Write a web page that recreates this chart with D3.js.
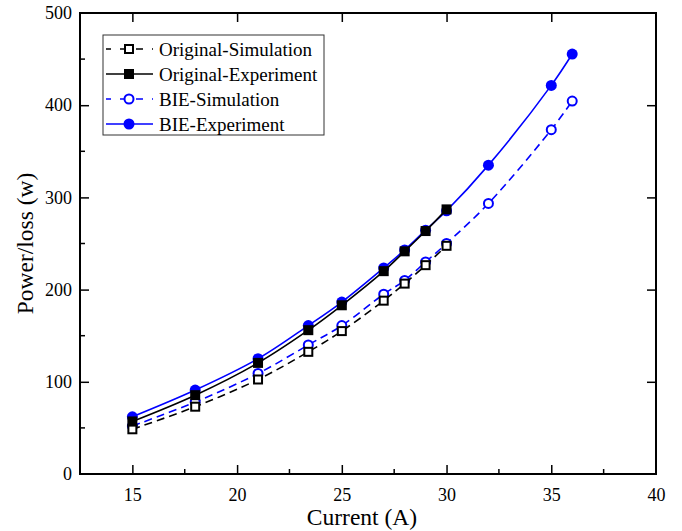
<!DOCTYPE html>
<html>
<head>
<meta charset="utf-8">
<script src="https://cdn.jsdelivr.net/npm/d3@7"></script>
<style>
  body { margin: 0; background: #fff; }
  svg { display: block; font-family: "Liberation Serif", "Times New Roman", serif; }
</style>
</head>
<body>
<svg id="chart" width="682" height="531"></svg>
<script>
// data
const origCurrent = [15, 18, 21, 23.4, 25, 27, 28, 29, 30];
const bieCurrent = [15, 18, 21, 23.4, 25, 27, 28, 29, 30, 32, 35, 36];
const origSimulation = [48.5, 73, 102.5, 132.5, 155, 188, 206.5, 226.5, 247.5];
const origExperiment = [57, 85.5, 120.5, 156, 183, 220, 241.5, 263.5, 287];
const bieSimulation = [52, 78, 109, 140, 161, 195, 210, 230, 250, 293.5, 373.5, 404.5];
const bieExperiment = [62, 91, 125, 161, 186.5, 223.5, 243, 264.5, 285.5, 335, 421.5, 455.5];
const xTicks = [15, 20, 25, 30, 35, 40];
const yTicks = [0, 100, 200, 300, 400, 500];

const margin = { top: 13, right: 26, bottom: 57, left: 80 },
  width = 682 - margin.left - margin.right,
  height = 531 - margin.top - margin.bottom;

const svg = d3.select("#chart")
  .append("g")
  .attr("transform", `translate(${margin.left},${margin.top})`);

const x = d3.scaleLinear().domain([12.5, 40]).range([0, width]);
const y = d3.scaleLinear().domain([0, 500]).range([height, 0]);

const series = [
  { name: "BIE-Simulation", xs: bieCurrent, ys: bieSimulation, color: "#0000ff", dash: "8,5", filled: false, shape: "circle" },
  { name: "BIE-Experiment", xs: bieCurrent, ys: bieExperiment, color: "#0000ff", dash: null, filled: true, shape: "circle" },
  { name: "Original-Simulation", xs: origCurrent, ys: origSimulation, color: "#000000", dash: "8,5", filled: false, shape: "square" },
  { name: "Original-Experiment", xs: origCurrent, ys: origExperiment, color: "#000000", dash: null, filled: true, shape: "square" }
];

const line = d3.line()
  .x(d => x(d[0]))
  .y(d => y(d[1]))
  .curve(d3.curveCatmullRom.alpha(0.5));

function drawMarker(g, s) {
  if (s.shape === "circle") {
    g.append("circle")
      .attr("r", s.filled ? 5.5 : 4.5)
      .attr("fill", s.filled ? s.color : "#fff")
      .attr("stroke", s.color)
      .attr("stroke-width", s.filled ? 0 : 2);
  } else {
    const a = s.filled ? 10 : 8;
    g.append("rect")
      .attr("x", -a / 2).attr("y", -a / 2)
      .attr("width", a).attr("height", a)
      .attr("fill", s.filled ? s.color : "#fff")
      .attr("stroke", s.color)
      .attr("stroke-width", s.filled ? 0 : 2);
  }
}

series.forEach(s => {
  const pts = s.xs.map((v, i) => [v, s.ys[i]]);
  svg.append("path")
    .datum(pts)
    .attr("d", line)
    .attr("fill", "none")
    .attr("stroke", s.color)
    .attr("stroke-width", 1.6)
    .attr("stroke-dasharray", s.dash);
  pts.forEach(p => {
    const g = svg.append("g").attr("transform", `translate(${x(p[0])},${y(p[1])})`);
    drawMarker(g, s);
  });
});

// axes, ticks inward
const xMinor = d3.range(15, 40, 2.5).filter(v => v % 5 !== 0);
const yMinor = d3.range(50, 500, 100);

const axBottom = svg.append("g").attr("transform", `translate(0,${height})`);
axBottom.call(d3.axisBottom(x).tickValues(xTicks).tickSize(-9).tickPadding(14).tickFormat(d3.format("d")));
axBottom.selectAll(".tick").filter(d => d === 40).select("line").remove();
axBottom.call(g => g.selectAll(".tick text").attr("font-size", 18).attr("font-family", "Liberation Serif"));
xMinor.forEach(v => axBottom.append("line").attr("x1", x(v)).attr("x2", x(v)).attr("y1", 0).attr("y2", -5).attr("stroke", "#000").attr("stroke-width", 1.5));

const axLeft = svg.append("g");
axLeft.call(d3.axisLeft(y).tickValues(yTicks).tickSize(-9).tickPadding(8).tickFormat(d3.format("d")));
axLeft.call(g => g.selectAll(".tick text").attr("font-size", 18).attr("font-family", "Liberation Serif"));
axLeft.selectAll(".tick").filter(d => d === 0 || d === 500).select("line").remove();
yMinor.forEach(v => axLeft.append("line").attr("x1", 0).attr("x2", 5).attr("y1", y(v)).attr("y2", y(v)).attr("stroke", "#000").attr("stroke-width", 1.5));

const axTop = svg.append("g");
axTop.call(d3.axisTop(x).tickValues([15, 20, 25, 30, 35]).tickSize(-9).tickFormat(""));
const axRight = svg.append("g").attr("transform", `translate(${width},0)`);
axRight.call(d3.axisRight(y).tickValues([100, 200, 300, 400]).tickSize(-9).tickFormat(""));

[axBottom, axLeft, axTop, axRight].forEach(g => {
  g.select(".domain").remove();
  g.selectAll(".tick line").attr("stroke-width", 1.5);
});

svg.append("rect")
  .attr("width", width).attr("height", height)
  .attr("fill", "none").attr("stroke", "#000").attr("stroke-width", 2);

// axis titles
svg.append("text")
  .attr("x", width / 2 - 6).attr("y", height + 51)
  .attr("text-anchor", "middle")
  .attr("font-size", 23.5)
  .text("Current (A)");

svg.append("text")
  .attr("transform", `translate(${-47},${height / 2}) rotate(-90)`)
  .attr("text-anchor", "middle")
  .attr("font-size", 23.5)
  .text("Power/loss (w)");

// legend
const legendOrder = ["Original-Simulation", "Original-Experiment", "BIE-Simulation", "BIE-Experiment"];
const legend = svg.append("g").attr("transform", `translate(${103 - margin.left},${35 - margin.top})`);
legend.append("rect")
  .attr("width", 221).attr("height", 100)
  .attr("fill", "#fff").attr("stroke", "#333").attr("stroke-width", 1);

legendOrder.forEach((name, i) => {
  const s = series.find(d => d.name === name);
  const row = legend.append("g").attr("transform", `translate(0,${14 + i * 25})`);
  row.append("line")
    .attr("x1", 3).attr("x2", 50)
    .attr("stroke", s.color).attr("stroke-width", 1.6)
    .attr("stroke-dasharray", s.dash ? "7,9" : null)
    .attr("stroke-dashoffset", s.dash ? 2 : null);
  drawMarker(row.append("g").attr("transform", "translate(26,0)"), s);
  row.append("text")
    .attr("x", 56).attr("y", 6.5)
    .attr("font-size", 19)
    .text(name);
});
</script>
</body>
</html>
